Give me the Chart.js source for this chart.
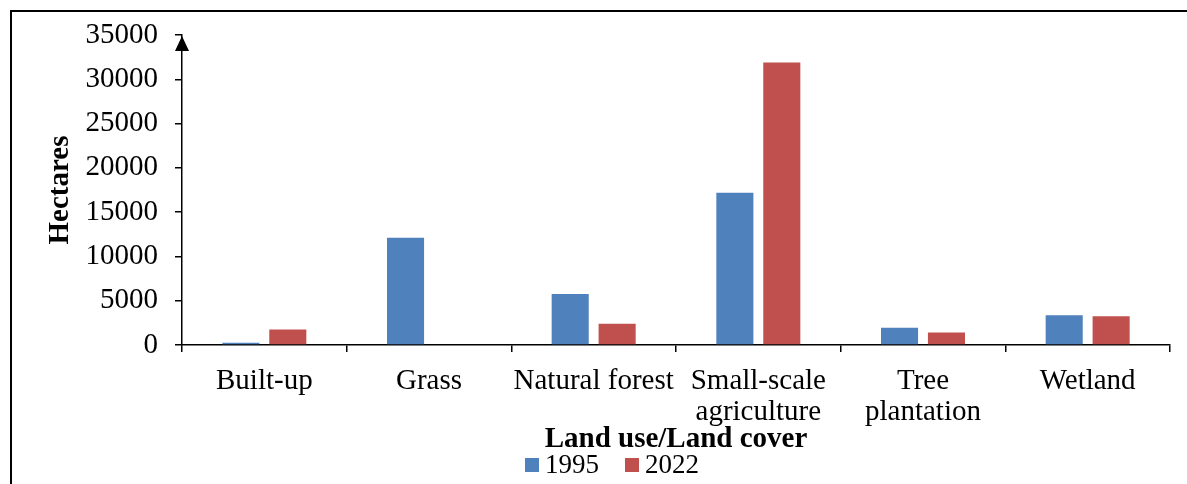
<!DOCTYPE html>
<html>
<head>
<meta charset="utf-8">
<script src="https://cdn.jsdelivr.net/npm/chart.js@4.4.1/dist/chart.umd.min.js"></script>
<style>
    body { margin: 0; background: #fff; }
    #wrap { position: relative; width: 1187px; height: 484px; overflow: hidden; }
    #frame { position: absolute; left: 10px; top: 10px; right: -5px; bottom: -5px;
             border-left: 2px solid #000; border-top: 2px solid #000; }
    #chart { position: absolute; left: 0; top: 0; }
    .legend { position: absolute; top: 449px; font: 27px "Liberation Serif", serif; color: #000;
              display: flex; align-items: center; white-space: nowrap; }
    .legend span.box { display: inline-block; width: 14px; height: 14px; margin-right: 6px; }
</style>
</head>
<body>
<div id="wrap">
    <div id="frame"></div>
    <canvas id="chart" width="1187" height="484"></canvas>
    <div class="legend" id="legend1" style="left:525px"></div>
    <div class="legend" id="legend2" style="left:625px"></div>
</div>
<script>
const categories = ['Built-up', 'Grass', 'Natural forest', ['Small-scale', 'agriculture'], ['Tree', 'plantation'], 'Wetland'];
const years = ['1995', '2022'];
const values1995 = [250, 12100, 5750, 17200, 1950, 3350];
const values2022 = [1750, 0, 2400, 31900, 1400, 3250];
const yTicks = [0, 5000, 10000, 15000, 20000, 25000, 30000, 35000];
const colors = ['#4F81BD', '#C0504D'];

const serif = '"Liberation Serif", "Times New Roman", serif';

// arrow head on top of the value axis
const axisArrow = {
    id: 'axisArrow',
    afterDraw(chart) {
        const ctx = chart.ctx;
        const x = chart.scales.y.left + chart.scales.y.width;
        const top = chart.chartArea.top;
        ctx.save();
        ctx.fillStyle = '#000';
        ctx.beginPath();
        ctx.moveTo(x, top + 1);
        ctx.lineTo(x - 7, top + 16);
        ctx.lineTo(x + 7, top + 16);
        ctx.closePath();
        ctx.fill();
        ctx.restore();
    }
};

const chart = new Chart(document.getElementById('chart'), {
    type: 'bar',
    data: {
        labels: categories,
        datasets: [{
            label: years[0],
            data: values1995,
            backgroundColor: colors[0],
            categoryPercentage: 0.57,
            barPercentage: 0.79
        }, {
            label: years[1],
            data: values2022,
            backgroundColor: colors[1],
            categoryPercentage: 0.57,
            barPercentage: 0.79
        }]
    },
    options: {
        responsive: false,
        animation: false,
        layout: { padding: { top: 35, right: 17, left: 0, bottom: 0 } },
        plugins: {
            legend: { display: false },
            tooltip: { enabled: false }
        },
        scales: {
            x: {
                grid: { drawOnChartArea: false, color: '#000', tickLength: 7, lineWidth: 1.5 },
                border: { color: '#000', width: 1.5 },
                ticks: { color: '#000', font: { family: serif, size: 29, lineHeight: 1.1 }, padding: 13, maxRotation: 0, autoSkip: false },
                title: { display: true, text: 'Land use/Land cover', color: '#000',
                         font: { family: serif, size: 29, weight: 'bold' }, padding: { top: 0, bottom: 27 } },
                afterFit(scale) { scale.height = 139; }
            },
            y: {
                min: 0,
                max: 35000,
                afterBuildTicks(scale) { scale.ticks = yTicks.map(v => ({ value: v })); },
                grid: { drawOnChartArea: false, color: '#000', tickLength: 7, lineWidth: 1.5 },
                border: { color: '#000', width: 1.5 },
                ticks: { color: '#000', font: { family: serif, size: 29 }, padding: 17,
                         callback: v => String(v) },
                title: { display: true, text: 'Hectares', color: '#000',
                         font: { family: serif, size: 29, weight: 'bold' }, padding: { top: 43, bottom: 0 } },
                afterFit(scale) { scale.width = 182; }
            }
        }
    },
    plugins: [axisArrow]
});

// legend built from the dataset labels
chart.data.datasets.forEach((ds, i) => {
    const el = document.getElementById('legend' + (i + 1));
    el.innerHTML = `<span class="box" style="background:${ds.backgroundColor}"></span>${ds.label}`;
});
</script>
</body>
</html>
